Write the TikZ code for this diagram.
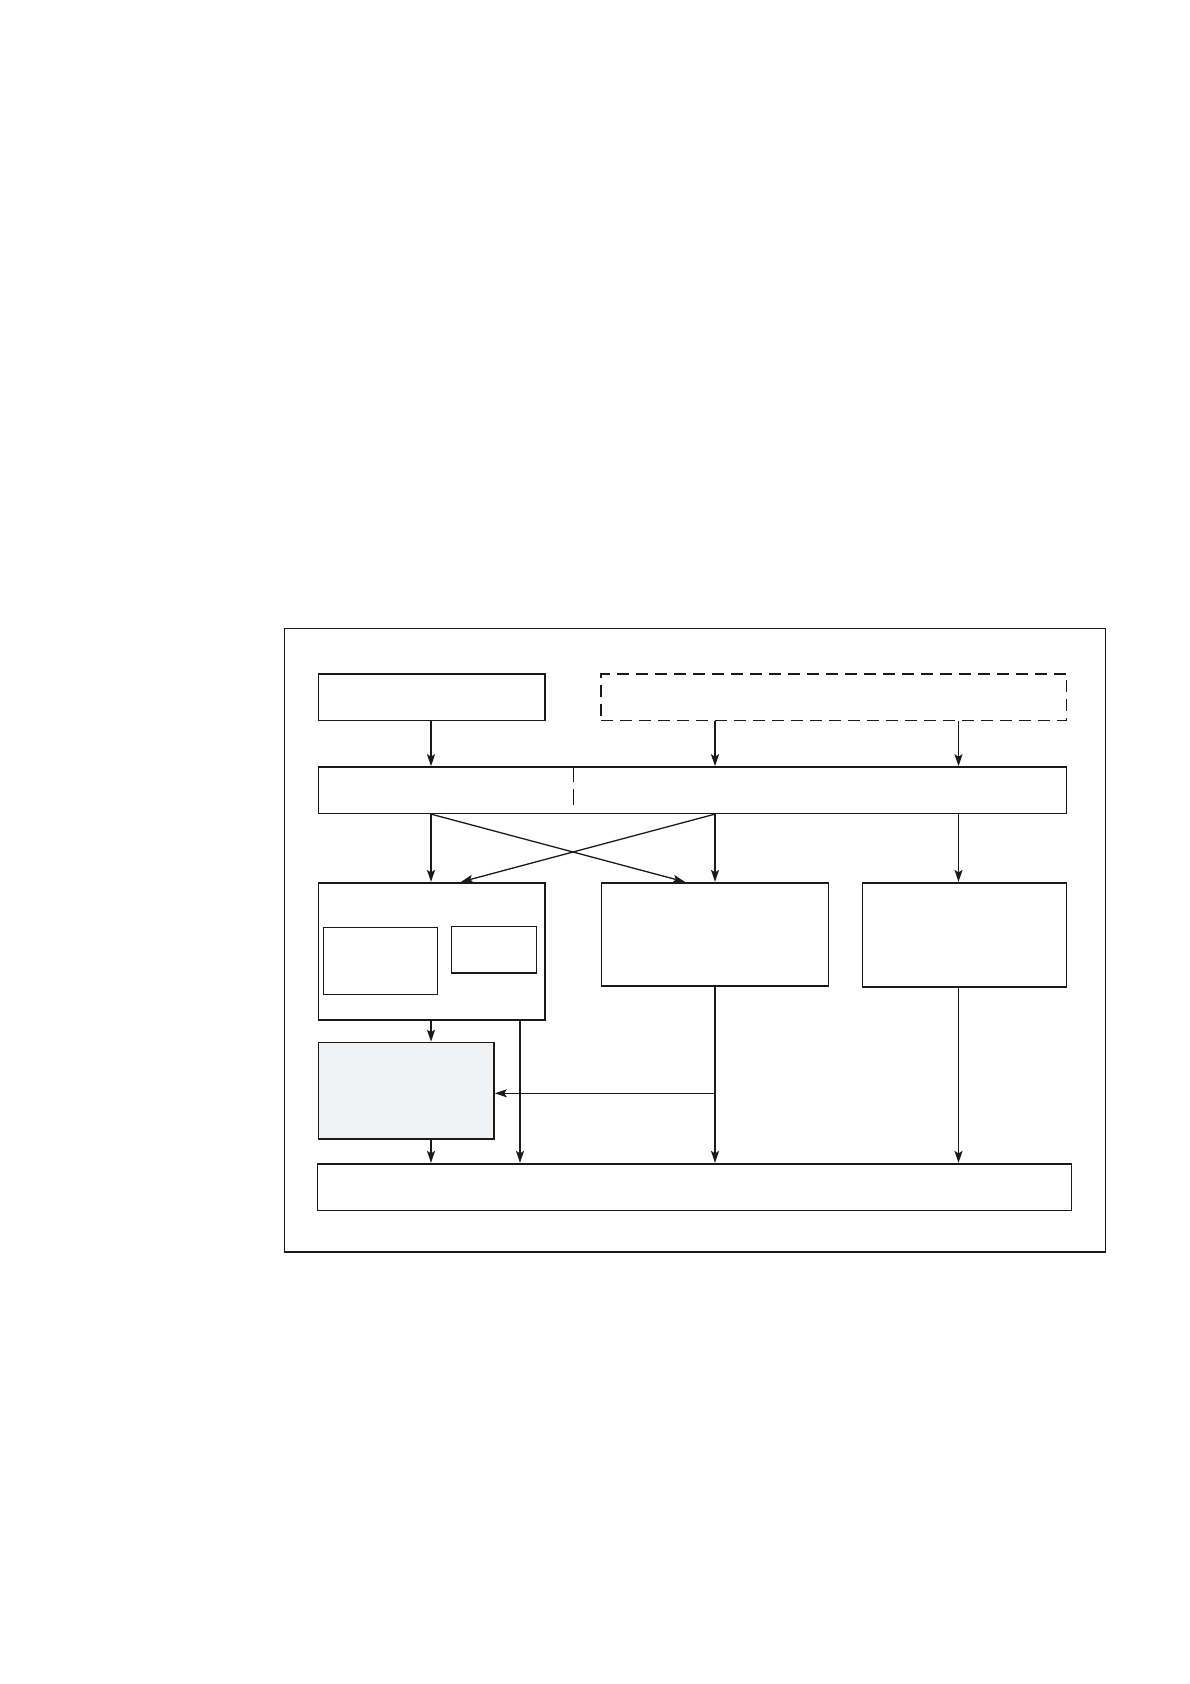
\documentclass[tikz,border=0pt]{standalone}
\usetikzlibrary{arrows.meta}
\definecolor{lightfill}{HTML}{F0F2F4}
\definecolor{ink}{HTML}{1A1A1A}
\begin{document}
\begin{tikzpicture}[x=1pt,y=1pt,
  box/.style={draw=ink, line width=1.6pt, inner sep=0pt, fill=white},
  thinbox/.style={draw=ink, line width=1.3pt, inner sep=0pt},
  dashbox/.style={draw=ink, line width=1.5pt, inner sep=0pt, dash pattern=on 12pt off 7pt},
  arr/.style={draw=ink, line width=1.3pt, -{Stealth[length=12pt,width=8pt,inset=2.5pt]}},
  divider/.style={draw=ink, line width=1.3pt, dash pattern=on 15.7pt off 7.3pt}]
\useasboundingbox (0,0) rectangle (1190,-1684);
% column coordinates
\coordinate (c1) at (431,0);
\coordinate (c2) at (715,0);
\coordinate (c3) at (958.5,0);
\coordinate (cx1) at (685,0);
\coordinate (cx2) at (461,0);
\coordinate (c4) at (520,0);
\coordinate (hy) at (0,-1093.3);
% outer frame
\node[thinbox, minimum width=821pt, minimum height=623.5pt] (outer) at (695,-940.25) {};
% top row
\node[box, minimum width=226.5pt, minimum height=46.5pt] (A) at (431.75,-697.25) {};
\node[dashbox, minimum width=465.5pt, minimum height=46.5pt] (D) at (833.75,-697.25) {};
% bar
\node[box, minimum width=748pt, minimum height=46.3pt] (B) at (692.5,-790.15) {};
\coordinate (divend) at (573.3,-807);
\draw[divider] (B.north -| divend) -- (divend);
% second row
\node[box, minimum width=226.5pt, minimum height=137.3pt] (C1) at (431.75,-951.35) {};
\node[thinbox, minimum width=114.3pt, minimum height=67pt] (I1) at (380.45,-960.8) {};
\node[thinbox, minimum width=85.2pt, minimum height=46.7pt] (I2) at (493.9,-949.65) {};
\node[box, minimum width=227.1pt, minimum height=103.3pt] (C2) at (714.85,-934.35) {};
\node[box, minimum width=204pt, minimum height=104.3pt] (C3) at (964.5,-934.85) {};
% gray box
\node[box, fill=lightfill, minimum width=175.5pt, minimum height=96.5pt] (G) at (406.25,-1090.75) {};
% bottom bar
\node[box, minimum width=753.8pt, minimum height=46.8pt] (E) at (694.4,-1187.1) {};
% arrows top -> bar
\draw[arr] (A.south -| c1) -- (B.north -| c1);
\draw[arr] (D.south -| c2) -- (B.north -| c2);
\draw[arr] (D.south -| c3) -- (B.north -| c3);
% bar -> second row
\draw[arr] (B.south -| c1) -- (C1.north -| c1);
\draw[arr] (B.south -| c2) -- (C2.north -| c2);
\draw[arr] (B.south -| c3) -- (C3.north -| c3);
\draw[arr] (B.south -| c1) -- (C2.north -| cx1);
\draw[arr] (B.south -| c2) -- (C1.north -| cx2);
% second row -> below
\draw[arr] (C1.south -| c1) -- (G.north -| c1);
\draw[arr] (C1.south -| c4) -- (E.north -| c4);
\draw[arr] (G.south -| c1) -- (E.north -| c1);
\draw[arr] (C2.south -| c2) -- (E.north -| c2);
\draw[arr] (C3.south -| c3) -- (E.north -| c3);
\draw[arr] (c2 |- hy) -- (G.east |- hy);
\end{tikzpicture}
\end{document}
